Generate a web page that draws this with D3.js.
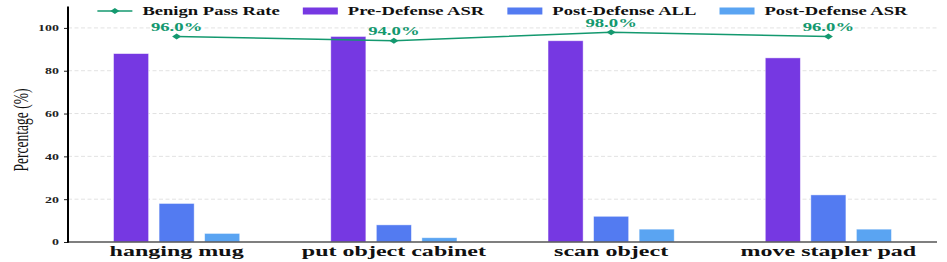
<!DOCTYPE html>
<html>
<head>
<meta charset="utf-8">
<script src="https://cdn.jsdelivr.net/npm/d3@7"></script>
<style>
  body { margin: 0; background: #fff; }
  text { font-family: "Liberation Serif", "Times New Roman", serif; }
</style>
</head>
<body>
<svg id="chart" width="947" height="262"></svg>
<script>
// data
let categories = ['hanging mug', 'put object cabinet', 'scan object', 'move stapler pad'];
let series = ['Pre-Defense ASR', 'Post-Defense ALL', 'Post-Defense ASR'];
let preDefenseASR = [88, 96, 94, 86];
let postDefenseALL = [18, 8, 12, 22];
let postDefenseASR = [4, 2, 6, 6];
let benignPassRate = [96, 94, 98, 96];
let yTicks = [0, 20, 40, 60, 80, 100];

let colors = ['#7638e2', '#537bf1', '#5aa4f2'];
let green = '#14996f';
let stretch = 1.55; // the picture is wider than tall, text looks stretched

let plotL = 68, plotR = 937, plotT = 6.5, plotB = 242;

let svg = d3.select('#chart');

let x = d3.scaleBand().domain(categories).range([plotL, plotR]).padding(0);
let half = x.bandwidth() * 0.3145;
let xs = d3.scaleBand().domain(series).range([-half, half])
    .paddingInner(0.23).paddingOuter(0.115);
let y = d3.scaleLinear().domain([0, 110]).range([plotB, plotT]);

// grid
svg.append('g')
    .selectAll('line')
    .data(yTicks.filter(d => d > 0))
    .enter().append('line')
    .attr('x1', plotL).attr('x2', plotR)
    .attr('y1', d => y(d)).attr('y2', d => y(d))
    .attr('stroke', '#e2e2e2')
    .attr('stroke-width', 1)
    .attr('stroke-dasharray', '4,2.5');

// bars
let values = [preDefenseASR, postDefenseALL, postDefenseASR];
series.forEach(function (s, si) {
    svg.append('g')
        .selectAll('rect')
        .data(categories)
        .enter().append('rect')
        .attr('x', (c) => x(c) + x.bandwidth() / 2 + xs(s))
        .attr('y', (c, i) => y(values[si][i]))
        .attr('width', xs.bandwidth())
        .attr('height', (c, i) => y(0) - y(values[si][i]))
        .attr('fill', colors[si])
        .attr('stroke', '#ffffff')
        .attr('stroke-opacity', 0.55)
        .attr('stroke-width', 0.8);
});

// y axis
let yAxis = d3.axisLeft(y).tickValues(yTicks).tickSize(4).tickPadding(0);
let gy = svg.append('g')
    .attr('transform', `translate(${plotL},0)`)
    .call(yAxis);
gy.select('.domain').remove();
gy.selectAll('.tick line').attr('stroke', '#222').attr('stroke-width', 1);
gy.selectAll('.tick text')
    .attr('x', -9 / stretch)
    .attr('dy', '0.32em')
    .attr('transform', `scale(${stretch},1)`)
    .style('font-family', '"Liberation Serif", serif')
    .style('font-weight', 'bold')
    .style('font-size', '9px')
    .attr('fill', '#222');

// spines
svg.append('line')
    .attr('x1', plotL).attr('x2', plotR)
    .attr('y1', plotB).attr('y2', plotB)
    .attr('stroke', '#555').attr('stroke-width', 1.5);
svg.append('line')
    .attr('x1', plotL).attr('x2', plotL)
    .attr('y1', y(110)).attr('y2', plotB + 0.75)
    .attr('stroke', '#000').attr('stroke-width', 2);

// category labels
svg.append('g')
    .selectAll('text')
    .data(categories)
    .enter().append('text')
    .attr('transform', c => `translate(${x(c) + x.bandwidth() / 2},256) scale(${stretch},1)`)
    .attr('text-anchor', 'middle')
    .style('font-weight', 'bold')
    .style('font-size', '15.5px')
    .attr('fill', '#111')
    .text(c => c);

// y label
svg.append('text')
    .attr('transform', `translate(28,130) scale(${stretch},1) rotate(-90)`)
    .attr('text-anchor', 'middle')
    .style('font-size', '13.5px')
    .attr('fill', '#111')
    .text('Percentage (%)');

// benign pass rate line
let cx = c => x(c) + x.bandwidth() / 2;
let line = d3.line()
    .x((d, i) => cx(categories[i]))
    .y(d => y(d));
svg.append('path')
    .datum(benignPassRate)
    .attr('d', line)
    .attr('fill', 'none')
    .attr('stroke', green)
    .attr('stroke-width', 1.5);

function diamond(px, py) {
    return `M${px - 4.5},${py}L${px},${py - 3}L${px + 4.5},${py}L${px},${py + 3}Z`;
}

svg.append('g')
    .selectAll('path')
    .data(benignPassRate)
    .enter().append('path')
    .attr('d', (d, i) => diamond(cx(categories[i]), y(d)))
    .attr('fill', green);

svg.append('g')
    .selectAll('text')
    .data(benignPassRate)
    .enter().append('text')
    .attr('transform', (d, i) => `translate(${cx(categories[i])},${y(d) - 5.5}) scale(${stretch * 1.05},1)`)
    .attr('text-anchor', 'middle')
    .style('font-weight', 'bold')
    .style('font-size', '11.5px')
    .attr('fill', green)
    .text(d => d.toFixed(1) + '%');

// legend
let legendItems = ['Benign Pass Rate'].concat(series);
let legend = svg.append('g');
let handleW = 35, gapText = 10, gapItem = 23;
let items = legend.selectAll('g')
    .data(legendItems)
    .enter().append('g');
items.append('text')
    .attr('y', 15)
    .style('font-weight', 'bold')
    .style('font-size', '12px')
    .attr('fill', '#111')
    .text(d => d);
let widths = [];
items.select('text').each(function () {
    widths.push(this.getComputedTextLength() * stretch);
});
let total = d3.sum(widths) + legendItems.length * (handleW + gapText) + (legendItems.length - 1) * gapItem;
let pos = (plotL + plotR) / 2 - total / 2;
items.each(function (d, i) {
    let g = d3.select(this);
    let x0 = pos;
    if (i === 0) {
        g.append('line')
            .attr('x1', x0).attr('x2', x0 + handleW)
            .attr('y1', 11).attr('y2', 11)
            .attr('stroke', green).attr('stroke-width', 1.5);
        g.append('path').attr('d', diamond(x0 + handleW / 2, 11)).attr('fill', green);
    } else {
        g.append('rect')
            .attr('x', x0).attr('y', 7.5)
            .attr('width', handleW).attr('height', 7)
            .attr('fill', colors[i - 1]);
    }
    g.select('text')
        .attr('transform', `translate(${x0 + handleW + gapText},0) scale(${stretch},1)`);
    pos += handleW + gapText + widths[i] + gapItem;
});
</script>
</body>
</html>
